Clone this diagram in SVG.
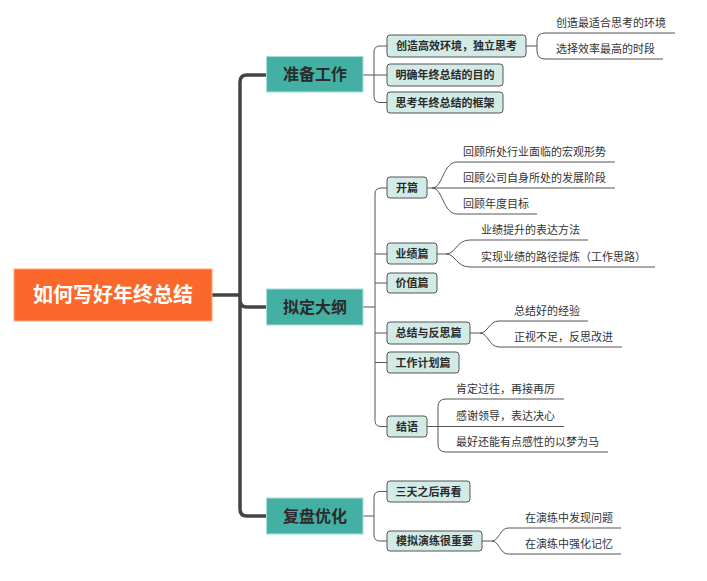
<svg xmlns="http://www.w3.org/2000/svg" width="707" height="581" viewBox="0 0 707 581">
<style>
text{font-family:"Noto Sans CJK SC","Liberation Sans",sans-serif;}
.root rect{fill:#FA692B;stroke:#FFA57F;stroke-width:1;}
.root text{fill:#fff;font-size:20px;font-weight:bold;text-anchor:middle;}
.l1 rect{fill:#44AFA3;stroke:#A6DDD6;stroke-width:1;}
.l1 text{fill:#2b2b2b;font-size:16px;font-weight:bold;text-anchor:middle;}
.l2 rect{fill:#D3EBE7;stroke:#555;stroke-width:1;}
.l2 text{fill:#2b2b2b;font-size:11px;font-weight:bold;text-anchor:middle;}
.leaf{fill:#333;font-size:11px;}
.trunk{fill:none;stroke:#444;stroke-width:3.5;}
.br{fill:none;stroke:#555;stroke-width:1;}
</style>
<rect width="707" height="581" fill="#fff"/>
<g id="connectors">
<path class="trunk" d="M212,295 H240 M266,75 H247 Q240,75 240,82 V509 Q240,516 247,516 H266 M240,300 Q240,307 247,307 H267"/>
<path class="br" d="M363,75 H387 M387,46 H380 Q374,46 374,52 V96.5 Q374,102.5 380,102.5 H387"/>
<path class="br" d="M526,46 H537 M675,33 H545 Q537,33 537,41 V51 Q537,59 545,59 H663"/>
<path class="br" d="M363,307 H375 M387,188 H381 Q375,188 375,194 V420.5 Q375,426.5 381,426.5 H387 M375,254 H387 M375,283 H387 M375,333 H387 M375,362.5 H387"/>
<path class="br" d="M427,188 H432 C443,188 443,162 457,162 H615 M432,188 H615 M432,188 C443,188 443,214 457,214 H537"/>
<path class="br" d="M437,254 H446 C456,254 456,240 470,240 H588 M446,254 C456,254 456,267 470,267 H655"/>
<path class="br" d="M470,333 H480 C488,333 489,321 499,321 H588 M480,333 C488,333 489,347 499,347 H622"/>
<path class="br" d="M427,426.5 H564 M564,399 H446 Q438,399 438,407 V444 Q438,452 446,452 H608"/>
<path class="br" d="M363,516 H374 M387,491.5 H380 Q374,491.5 374,497.5 V535 Q374,541 380,541 H387"/>
<path class="br" d="M482,541 H492 C499,541 500,528 508,528 H621 M492,541 C499,541 500,554 508,554 H621"/>
</g>
<g id="root" class="root"><rect x="14" y="269" width="198" height="52"/><text x="113" y="302">如何写好年终总结</text></g>
<g id="n1" class="l1"><rect x="266.5" y="56.5" width="96.5" height="35.5"/><text x="315" y="80">准备工作</text></g>
<g id="n2" class="l1"><rect x="266.5" y="289" width="96.5" height="36"/><text x="315" y="313">拟定大纲</text></g>
<g id="n3" class="l1"><rect x="266.5" y="498" width="96.5" height="36"/><text x="315" y="522">复盘优化</text></g>
<g id="n1a" class="l2"><rect x="387" y="35" width="139" height="22" rx="3"/><text x="456.5" y="50">创造高效环境，独立思考</text></g>
<g id="n1b" class="l2"><rect x="387" y="64" width="116" height="22" rx="3"/><text x="445" y="79">明确年终总结的目的</text></g>
<g id="n1c" class="l2"><rect x="387" y="92" width="116" height="21" rx="3"/><text x="445" y="106.5">思考年终总结的框架</text></g>
<g id="n2a" class="l2"><rect x="387" y="177" width="40" height="21" rx="3"/><text x="407" y="191.5">开篇</text></g>
<g id="n2b" class="l2"><rect x="387" y="243" width="50" height="21" rx="3"/><text x="412" y="257.5">业绩篇</text></g>
<g id="n2c" class="l2"><rect x="387" y="273" width="50" height="20" rx="3"/><text x="412" y="287">价值篇</text></g>
<g id="n2d" class="l2"><rect x="387" y="322" width="83" height="22" rx="3"/><text x="428.5" y="337">总结与反思篇</text></g>
<g id="n2e" class="l2"><rect x="387" y="352" width="72" height="21" rx="3"/><text x="423" y="366.5">工作计划篇</text></g>
<g id="n2f" class="l2"><rect x="387" y="416" width="40" height="21" rx="3"/><text x="407" y="430.5">结语</text></g>
<g id="n3a" class="l2"><rect x="387" y="481" width="83" height="21" rx="3"/><text x="428.5" y="495.5">三天之后再看</text></g>
<g id="n3b" class="l2"><rect x="387" y="531" width="95" height="20" rx="3"/><text x="434.5" y="545">模拟演练很重要</text></g>
<g id="leaves">
<text class="leaf" x="556" y="27">创造最适合思考的环境</text>
<text class="leaf" x="556" y="53">选择效率最高的时段</text>
<text class="leaf" x="463" y="156">回顾所处行业面临的宏观形势</text>
<text class="leaf" x="463" y="182">回顾公司自身所处的发展阶段</text>
<text class="leaf" x="463" y="208">回顾年度目标</text>
<text class="leaf" x="481" y="234">业绩提升的表达方法</text>
<text class="leaf" x="481" y="261">实现业绩的路径提炼（工作思路）</text>
<text class="leaf" x="514" y="315">总结好的经验</text>
<text class="leaf" x="514" y="341">正视不足，反思改进</text>
<text class="leaf" x="456" y="393">肯定过往，再接再厉</text>
<text class="leaf" x="456" y="420">感谢领导，表达决心</text>
<text class="leaf" x="456" y="446">最好还能有点感性的以梦为马</text>
<text class="leaf" x="525" y="522">在演练中发现问题</text>
<text class="leaf" x="525" y="548">在演练中强化记忆</text>
</g>
</svg>
